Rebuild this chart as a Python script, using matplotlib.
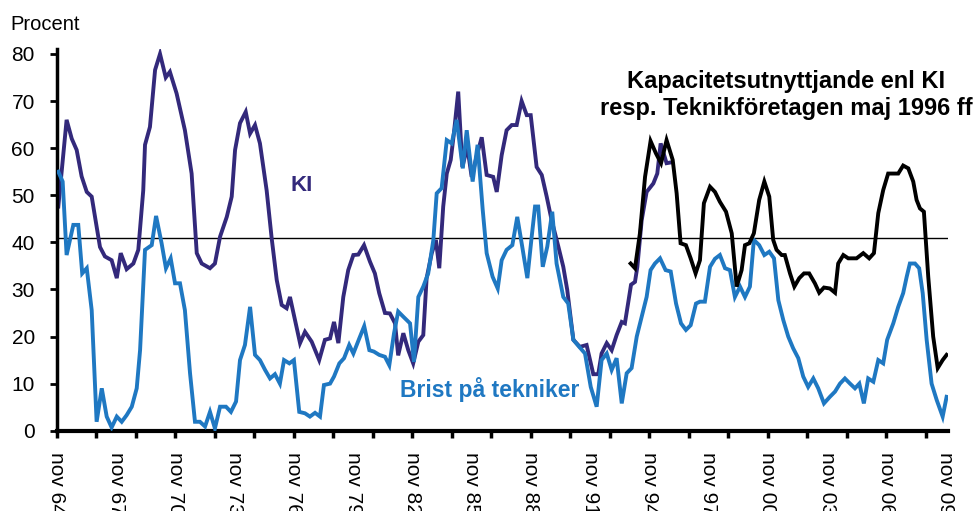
import matplotlib
matplotlib.use("Agg")
import matplotlib.pyplot as plt
from matplotlib.ticker import FixedLocator, NullFormatter

plt.rcParams['font.family'] = ['Liberation Sans', 'DejaVu Sans']

# KI (capacity utilisation): year (decimal) / percent
ki_year = [1964.90, 1965.32, 1965.58, 1965.83, 1966.08, 1966.34, 1966.59, 1967.01, 1967.26, 1967.60,
           1967.86, 1968.06, 1968.36, 1968.70, 1968.95, 1969.20, 1969.29, 1969.54, 1969.80, 1970.05,
           1970.34, 1970.55, 1970.89, 1971.31, 1971.65, 1971.91, 1972.16, 1972.58, 1972.83, 1973.09,
           1973.43, 1973.68, 1973.85, 1974.10, 1974.39, 1974.61, 1974.86, 1975.11, 1975.45, 1975.70,
           1975.96, 1976.21, 1976.46, 1976.63, 1977.14, 1977.39, 1977.73, 1978.11, 1978.40, 1978.66,
           1978.86, 1979.08, 1979.33, 1979.58, 1979.84, 1980.09, 1980.38, 1980.68, 1980.93, 1981.15,
           1981.44, 1981.69, 1981.95, 1982.11, 1982.37, 1982.62, 1982.87, 1983.13, 1983.38, 1983.55,
           1983.81, 1984.02, 1984.19, 1984.39, 1984.57, 1984.77, 1984.93, 1985.15, 1985.36, 1985.61,
           1985.83, 1986.08, 1986.34, 1986.59, 1986.92, 1987.10, 1987.35, 1987.60, 1987.86, 1988.11,
           1988.36, 1988.62, 1988.82, 1989.12, 1989.38, 1989.63, 1989.88, 1990.22, 1990.47, 1990.67,
           1990.98, 1991.31, 1991.65, 1991.99, 1992.24, 1992.41, 1992.67, 1992.92, 1993.17, 1993.43,
           1993.59, 1993.75, 1993.90, 1994.10, 1994.22, 1994.44, 1994.69, 1995.03, 1995.23, 1995.40,
           1995.70, 1995.97]
ki_val = [47.6, 66, 62, 59.6, 54, 50.7, 49.7, 39, 37, 36.2,
          32.4, 37.7, 34.3, 35.5, 38.4, 51, 60.7, 64.5, 76.6, 80,
          75, 76.2, 71.6, 63.8, 54.6, 37.7, 35.5, 34.5, 35.5, 41.2,
          45.4, 49.7, 59.6, 65.3, 67.7, 63.1, 64.9, 61, 51, 41,
          32, 26.7, 26, 28.4, 18.6, 21, 18.9, 15, 19.3, 19.6,
          23.1, 18.6, 28.4, 34.1, 37.3, 37.4, 39.4, 35.9, 33.4, 29.2,
          25, 24.9, 22.8, 16, 20.7, 17.1, 14.3, 18.9, 20.3, 32.4,
          37.7, 40.5, 34.5, 47.6, 54.6, 57.5, 63.1, 72, 56, 60.3,
          53.9, 58.2, 62.3, 54.3, 53.9, 50.7, 58.5, 63.8, 64.9, 64.9,
          70, 67, 67, 56, 54.3, 49.7, 44.7, 39.1, 34.8, 29.9,
          19.3, 17.8, 18.2, 12, 12, 16.4, 18.6, 17.1, 20.3, 23.1,
          22.8, 27, 31, 31.6, 34.8, 44.7, 50.7, 52.5, 54.6, 61,
          56.8, 57]

# Brist på tekniker
bt_year = [1964.90, 1965.12, 1965.32, 1965.66, 1965.91, 1966.11, 1966.34, 1966.59, 1966.84, 1967.10,
           1967.35, 1967.60, 1967.86, 1968.11, 1968.36, 1968.62, 1968.87, 1969.04, 1969.29, 1969.63,
           1969.85, 1970.13, 1970.35, 1970.59, 1970.81, 1971.06, 1971.31, 1971.57, 1971.82, 1972.07,
           1972.33, 1972.58, 1972.83, 1973.09, 1973.39, 1973.64, 1973.90, 1974.10, 1974.35, 1974.61,
           1974.86, 1975.11, 1975.37, 1975.62, 1975.87, 1976.12, 1976.33, 1976.60, 1976.83, 1977.10,
           1977.39, 1977.64, 1977.90, 1978.15, 1978.35, 1978.66, 1978.86, 1979.13, 1979.37, 1979.63,
           1979.84, 1980.14, 1980.39, 1980.65, 1980.88, 1981.15, 1981.44, 1981.66, 1981.90, 1982.11,
           1982.37, 1982.71, 1982.91, 1983.13, 1983.38, 1983.63, 1983.89, 1984.06, 1984.31, 1984.57,
           1984.82, 1985.07, 1985.38, 1985.58, 1985.88, 1986.13, 1986.39, 1986.59, 1986.89, 1987.15,
           1987.35, 1987.60, 1987.89, 1988.14, 1988.39, 1988.65, 1988.87, 1989.04, 1989.20, 1989.43,
           1989.66, 1989.91, 1990.13, 1990.47, 1990.72, 1990.98, 1991.28, 1991.57, 1991.86, 1992.16,
           1992.41, 1992.67, 1992.92, 1993.17, 1993.43, 1993.68, 1993.93, 1994.19, 1994.44, 1994.69,
           1994.89, 1995.11, 1995.37, 1995.65, 1995.91, 1996.18, 1996.43, 1996.68, 1996.92, 1997.19,
           1997.39, 1997.64, 1997.90, 1998.15, 1998.40, 1998.66, 1998.91, 1999.16, 1999.42, 1999.67,
           1999.92, 2000.12, 2000.39, 2000.65, 2000.90, 2001.14, 2001.36, 2001.61, 2001.86, 2002.11,
           2002.37, 2002.62, 2002.87, 2003.13, 2003.38, 2003.67, 2003.97, 2004.23, 2004.48, 2004.73,
           2004.99, 2005.24, 2005.46, 2005.69, 2005.91, 2006.17, 2006.42, 2006.67, 2006.87, 2007.18,
           2007.43, 2007.68, 2007.86, 2008.02, 2008.28, 2008.49, 2008.67, 2008.87, 2009.12, 2009.38,
           2009.68, 2009.88]
bt_val = [55, 52.9, 37.3, 43.7, 43.7, 33.4, 34.5, 25.6, 1.9, 9,
          3, 0.7, 3, 1.9, 3.3, 5.1, 9, 17.1, 38.4, 39.4,
          45.6, 39.8, 34.5, 36.6, 31.3, 31.3, 25.6, 12.2, 1.9, 1.9,
          0.9, 4, 0.5, 5.1, 5.1, 4, 6.2, 15, 18.2, 26.3,
          16.1, 15, 12.9, 11.1, 12, 10, 15, 14.3, 15, 4,
          3.7, 3, 3.8, 3, 9.7, 10, 11.5, 14.3, 15.4, 18.2,
          16.4, 19.6, 22.2, 17.1, 16.8, 16.1, 15.7, 13.9, 20.7, 25.3,
          24.2, 22.8, 14.6, 28.4, 30.6, 33.4, 40.5, 50.4, 51.5, 61.7,
          61, 66, 55.7, 63.8, 52.9, 60.7, 46.9, 37.7, 32.7, 30.2,
          36.2, 38.4, 39.4, 45.4, 39.1, 32.4, 41.2, 47.6, 47.6, 34.8,
          39.1, 46.5, 35.5, 28.4, 27, 19.3, 17.8, 16.4, 9.3, 5.1,
          15, 16.4, 12.9, 15.4, 5.8, 12.2, 13.3, 20, 24.2, 28.4,
          34.1, 35.5, 36.6, 34.1, 33.8, 27, 22.8, 21.4, 22.4, 27,
          27.4, 27.4, 34.8, 36.5, 37.3, 34.5, 34.1, 28.4, 30.6, 28.4,
          30.6, 40.5, 39.4, 37.3, 38, 36.6, 27.7, 23.5, 20, 17.5,
          15.4, 11.5, 9.3, 11.1, 9, 5.8, 7.2, 8.3, 10, 11.1,
          10, 9, 10, 5.8, 11.1, 10.4, 15, 14.3, 19.3, 22.8,
          26.3, 29.2, 32.7, 35.5, 35.5, 34.5, 29.2, 19.3, 10, 6.5,
          3, 7.2]

# Kapacitetsutnyttjande enl Teknikföretagen
tf_year = [1993.88, 1994.10, 1994.35, 1994.61, 1994.89, 1995.16, 1995.42, 1995.70, 1996.01, 1996.21,
           1996.41, 1996.68, 1996.92, 1997.17, 1997.39, 1997.59, 1997.90, 1998.15, 1998.40, 1998.71,
           1999.00, 1999.25, 1999.50, 1999.67, 1999.89, 2000.12, 2000.39, 2000.65, 2000.90, 2001.10,
           2001.27, 2001.53, 2001.69, 2001.95, 2002.17, 2002.42, 2002.66, 2002.92, 2003.21, 2003.43,
           2003.67, 2003.97, 2004.23, 2004.39, 2004.65, 2004.90, 2005.32, 2005.66, 2005.96, 2006.20,
           2006.42, 2006.67, 2006.92, 2007.18, 2007.43, 2007.68, 2007.94, 2008.19, 2008.36, 2008.53,
           2008.73, 2008.95, 2009.20, 2009.43, 2009.68, 2009.88]
tf_val = [35.5, 34.5, 41.9, 53.9, 61.5, 58.9, 56.8, 61.7, 57.5, 50.4,
          39.8, 39.4, 36.6, 33.4, 36.2, 48.3, 51.8, 50.7, 48.6, 46.5,
          41.9, 30.6, 34.1, 39.4, 39.8, 41.9, 49, 52.9, 49.7, 40.5,
          38.4, 37.3, 37.3, 33.4, 30.6, 32.4, 33.4, 33.4, 31.3, 29.3,
          30.4, 30.2, 29.3, 35.5, 37.3, 36.6, 36.6, 37.7, 36.6, 37.7,
          46.2, 51.1, 54.6, 54.6, 54.6, 56.3, 55.7, 52.9, 49, 47.2,
          46.5, 32.7, 20, 13.3, 15, 16.1]

ref_level = 41
start = 1964 + 10 / 12
label_pos = [start + 3 * k for k in range(16)]
label_txt = ['nov %02d' % ((64 + 3 * k) % 100) for k in range(16)]
tick_pos = [start + 2 * k for k in range(23)]

purple = '#33297b'
blue = '#1f78c2'

fig = plt.figure(figsize=(9.76, 5.11), dpi=100)
ax = fig.add_axes([0.0584, 0.1571, 0.9129, 0.7466])

ax.axhline(ref_level, color='black', lw=1, zorder=1)
ax.plot(ki_year, ki_val, color=purple, lw=2.8, zorder=2, solid_joinstyle='miter')
ax.plot(bt_year, bt_val, color=blue, lw=2.8, zorder=3, solid_joinstyle='miter')
ax.plot(tf_year, tf_val, color='black', lw=2.8, zorder=4, solid_joinstyle='miter')

ax.set_xlim(start, 2009.95)
ax.set_ylim(0, 81)
ax.set_yticks(range(0, 81, 10))
ax.tick_params(axis='y', direction='out', length=5, width=2, pad=11, labelsize=15)

# tick marks every second year, labels every third year (as in the original)
ax.xaxis.remove_overlapping_locs = False
ax.xaxis.set_major_locator(FixedLocator(tick_pos))
ax.xaxis.set_major_formatter(NullFormatter())
ax.set_xticks(label_pos, label_txt, minor=True, rotation=270)
ax.tick_params(axis='x', which='major', direction='out', length=5, width=2.5)
ax.tick_params(axis='x', which='minor', length=0, pad=15, labelsize=15)

for side in ['top', 'right']:
    ax.spines[side].set_visible(False)
ax.spines['left'].set_linewidth(2.5)
ax.spines['bottom'].set_linewidth(3)

fig.text(10 / 976, 1 - 30 / 511, 'Procent', fontsize=14.5, va='baseline')
ax.text(1977.2, 52, 'KI', color=purple, fontsize=16, fontweight='bold', ha='center', va='center')
ax.text(1982.2, 8.7, 'Brist på tekniker', color=blue, fontsize=16.5, fontweight='bold',
        ha='left', va='center')
fig.text(786 / 976, 1 - 70 / 511, 'Kapacitetsutnyttjande enl KI\nresp. Teknikföretagen maj 1996 ff',
         fontsize=17, fontweight='bold', ha='center', va='top', multialignment='center')

fig.savefig('out.png', dpi=100)
